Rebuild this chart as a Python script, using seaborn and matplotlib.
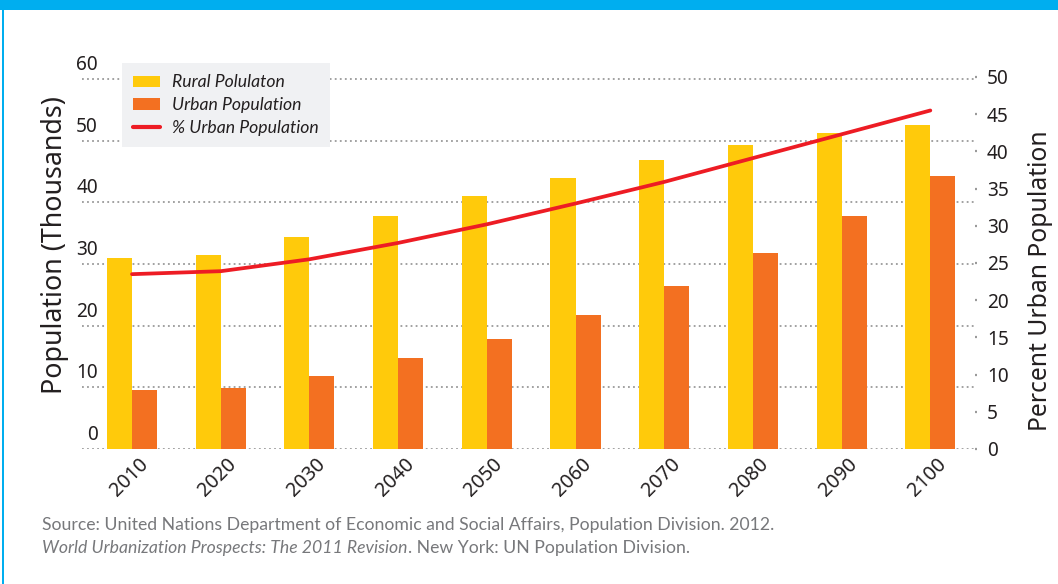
import numpy as np
import pandas as pd
import seaborn as sns
import matplotlib
matplotlib.use("Agg")
import matplotlib.pyplot as plt
from matplotlib.transforms import ScaledTranslation
from matplotlib.lines import Line2D
from matplotlib.patches import Patch, Rectangle

# ---- data ----
years = ['2010', '2020', '2030', '2040', '2050', '2060', '2070', '2080', '2090', '2100']
rural = [30.9, 31.5, 34.4, 37.8, 41.0, 44.0, 46.8, 49.2, 51.2, 52.6]
urban = [9.6, 9.9, 11.9, 14.7, 17.9, 21.8, 26.4, 31.8, 37.8, 44.3]
pct_urban = [23.5, 23.9, 25.5, 27.7, 30.2, 33.0, 35.9, 39.1, 42.3, 45.5]
left_ticks = [0, 10, 20, 30, 40, 50, 60]
right_ticks = [0, 5, 10, 15, 20, 25, 30, 35, 40, 45, 50]
series_names = ['Rural Polulaton', 'Urban Population', '% Urban Population']

YELLOW = '#FFCA0B'
ORANGE = '#F37021'
RED = '#ED1C24'
GRID = '#9a9a9a'
TXT = '#231f20'

sns.set_theme(style='white')
plt.rcParams['font.family'] = ['Noto Sans', 'DejaVu Sans']

W, H = 1058, 584
fig = plt.figure(figsize=(W / 100, H / 100), dpi=100)
fig.patch.set_facecolor('white')
ax = fig.add_axes([82 / W, 1 - 449 / H, (976 - 82) / W, (449 - 77) / H])

df = pd.DataFrame({
    'Year': years * 2,
    'Population': rural + urban,
    'Series': [series_names[0]] * len(years) + [series_names[1]] * len(years),
})
sns.barplot(data=df, x='Year', y='Population', hue='Series', order=years,
            hue_order=series_names[:2], palette=[YELLOW, ORANGE], saturation=1,
            width=0.565, ax=ax, legend=False, linewidth=0)

ax2 = ax.twinx()
sns.lineplot(x=np.arange(len(years)), y=pct_urban, ax=ax2, color=RED,
             linewidth=2.7, legend=False)

ax.set_ylim(0, 60.3)
ax2.set_ylim(0, 50)
ax.set_xlim(-0.564, 9.515)

for a in (ax, ax2):
    for s in a.spines.values():
        s.set_visible(False)
    a.set_facecolor('none')
ax.set_axisbelow(True)
ax.yaxis.grid(True, color=GRID, linestyle=(0, (1, 1.8)), linewidth=1.3)
ax.xaxis.grid(False)
ax2.grid(False)

TICK_FS = 13.7
TICK_W = 500

# left ticks
ax.set_yticks(left_ticks)
ax.set_yticklabels([str(t) for t in left_ticks], fontweight=TICK_W)
ax.tick_params(axis='y', length=0, pad=-11.5, labelsize=TICK_FS, labelcolor=TXT)
for lbl in ax.get_yticklabels():
    lbl.set_ha('right')
    lbl.set_va('bottom')
    lbl.set_transform(lbl.get_transform() + ScaledTranslation(0, 4 / 100, fig.dpi_scale_trans))

# right ticks
ax2.set_yticks(right_ticks)
ax2.set_yticklabels([str(t) for t in right_ticks], fontweight=TICK_W)
ax2.tick_params(axis='y', length=1.6, width=1.6, color=GRID, direction='inout',
                pad=7, labelsize=TICK_FS, labelcolor=TXT)

# x ticks
ax.set_xticks(range(len(years)))
ax.set_xticklabels(years, rotation=45, ha='right', va='center', rotation_mode='anchor',
                   fontweight=TICK_W)
ax.tick_params(axis='x', length=0, pad=9, labelsize=14.2, labelcolor=TXT)
for lbl in ax.get_xticklabels():
    lbl.set_transform(lbl.get_transform() + ScaledTranslation(13 / 100, 0, fig.dpi_scale_trans))
ax.set_xlabel('')

ax.set_ylabel('Population (Thousands)', fontsize=19.3, color=TXT, ha='center', va='center')
ax.yaxis.set_label_coords(-0.030, 0.548)
ax2.set_ylabel('Percent Urban Population', fontsize=17.8, color=TXT, rotation=90,
               ha='center', va='center')
ax2.yaxis.set_label_coords(1.0716, 0.452)

# legend
handles = [Patch(facecolor=YELLOW, edgecolor='none'),
           Patch(facecolor=ORANGE, edgecolor='none'),
           Line2D([0], [0], color=RED, linewidth=3)]
leg = fig.legend(handles, series_names, loc='upper left',
                 bbox_to_anchor=(122 / W, 1 - 63 / H), frameon=True, fancybox=False,
                 facecolor='#f0f1f3', edgecolor='none', framealpha=1,
                 prop={'family': ['Lato', 'DejaVu Sans'], 'style': 'italic', 'size': 12.7},
                 handlelength=1.5, handleheight=0.62, labelspacing=0.38,
                 borderpad=0.65, handletextpad=0.7, borderaxespad=0)
for t in leg.get_texts():
    t.set_color(TXT)

# blue frame
fig.add_artist(Rectangle((0, 1 - 10 / H), 1, 10 / H, transform=fig.transFigure,
                         facecolor='#00AEEF', edgecolor='none'))
fig.add_artist(Rectangle((2 / W, 0), 1.6 / W, 1, transform=fig.transFigure,
                         facecolor='#00AEEF', edgecolor='none'))

# source text
SRC = '#77787b'
src_font = ['Lato', 'DejaVu Sans']
SRC_FS = 12.7
fig.text(42 / W, 1 - 530 / H,
         'Source: United Nations Department of Economic and Social Affairs, Population Division. 2012.',
         fontsize=SRC_FS, color=SRC, family=src_font, weight='normal', va='baseline')
t1 = fig.text(42 / W, 1 - 553 / H, 'World Urbanization Prospects: The 2011 Revision',
              fontsize=SRC_FS, color=SRC, family=src_font, weight='normal', style='italic',
              va='baseline')
renderer = fig.canvas.get_renderer()
bb = t1.get_window_extent(renderer)
fig.text(bb.x1 / W, 1 - 553 / H, '. New York: UN Population Division.',
         fontsize=SRC_FS, color=SRC, family=src_font, weight='normal', va='baseline')

fig.savefig('out.png', dpi=100, facecolor='white')
